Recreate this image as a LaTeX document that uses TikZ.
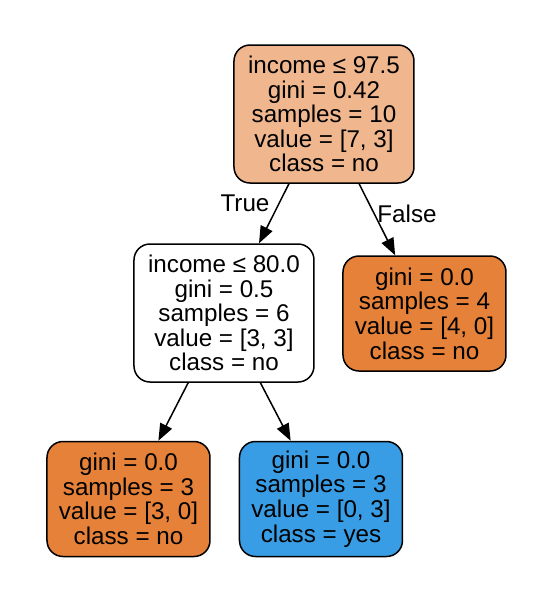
\documentclass[tikz,border=0pt]{standalone}
\usepackage{fontspec}
\setmainfont{Liberation Sans}
\usepackage{xcolor}
\usetikzlibrary{arrows.meta, positioning}
\definecolor{rootfill}{HTML}{F0B78E}
\definecolor{nofill}{HTML}{E58139}
\definecolor{yesfill}{HTML}{399DE5}

\begin{document}
\begin{tikzpicture}[
  x=0.5pt, y=-0.5pt,
  every node/.style={font=\fontsize{12.1}{12.3}\selectfont},
  split/.style={draw, line width=0.75pt, rounded corners=8pt, minimum width=90pt, minimum height=69pt, align=center, inner sep=0pt},
  leaf/.style={draw, line width=0.75pt, rounded corners=8pt, minimum width=81.5pt, minimum height=57.5pt, align=center, inner sep=0pt},
  arrow/.style={-{Triangle[length=8.5pt, width=6.5pt]}, line width=0.75pt}
]
\useasboundingbox (0,0) rectangle (535,591);
\node[split, fill=rootfill] (root) at (324,114) {income ≤ 97.5\\gini = 0.42\\samples = 10\\value = [7, 3]\\class = no};
\node[split, fill=white] (left) at (224,313) {income ≤ 80.0\\gini = 0.5\\samples = 6\\value = [3, 3]\\class = no};
\node[leaf, fill=nofill] (right) at (424.5,313.5) {gini = 0.0\\samples = 4\\value = [4, 0]\\class = no};
\node[leaf, fill=nofill] (leftleft) at (128.5,499) {gini = 0.0\\samples = 3\\value = [3, 0]\\class = no};
\node[leaf, fill=yesfill] (leftright) at (321,499) {gini = 0.0\\samples = 3\\value = [0, 3]\\class = yes};
\node (true) at (245,203) {True};
\node (false) at (407,214) {False};
\draw[arrow] (root) -- (left);
\draw[arrow] (root) -- (right);
\draw[arrow] (left) -- (leftleft);
\draw[arrow] (left) -- (leftright);
\end{tikzpicture}
\end{document}
